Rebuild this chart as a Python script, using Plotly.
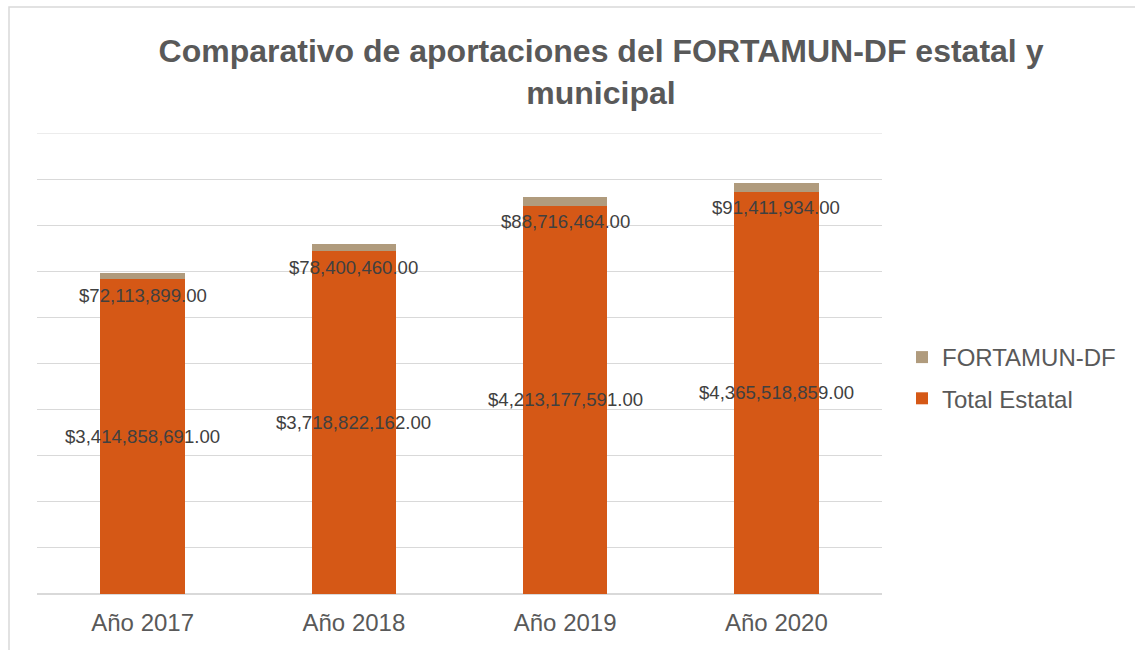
import plotly.graph_objects as go

years = ["Año 2017", "Año 2018", "Año 2019", "Año 2020"]
total_estatal = [3414858691.00, 3718822162.00, 4213177591.00, 4365518859.00]
fortamun_df = [72113899.00, 78400460.00, 88716464.00, 91411934.00]
y_max = 5e9
y_step = 5e8

# page body margin is removed by post_script, so figure coords = screen coords
W, H = 1135, 650
L, R, T = 37, 1135 - 882, 133
B = H - 594
pw, ph = W - L - R, H - T - B

ORANGE = "#D55816"
TAN = "#B09B7D"
TXT = "#595959"
LBL = "#404040"
GRID = "#D9D9D9"
FONT = "Liberation Sans, Arial, sans-serif"

fig = go.Figure()
fig.add_trace(go.Bar(name="Total Estatal", x=years, y=total_estatal,
                     marker=dict(color=ORANGE, line=dict(width=0)),
                     legendgroup="estatal", legendrank=2))
fig.add_trace(go.Bar(name="FORTAMUN-DF", x=years, y=fortamun_df,
                     marker=dict(color=TAN, line=dict(width=0)),
                     legendgroup="fortamun", legendrank=1))

def money(v):
    return "${:,.2f}".format(v)

anns = []
for x, te, fo in zip(years, total_estatal, fortamun_df):
    anns.append(dict(x=x, y=te / 2, text=money(te), showarrow=False,
                     font=dict(size=18.6, color=LBL, family=FONT),
                     xanchor="center", yanchor="middle"))
    anns.append(dict(x=x, y=te, text=money(fo), showarrow=False,
                     font=dict(size=18.6, color=LBL, family=FONT),
                     xanchor="center", yanchor="middle", yshift=-16))

def px_x(px):  # screen px -> paper
    return (px - L) / pw

def px_y(py):
    return (H - B - py) / ph

fig.update_layout(
    width=W, height=H,
    margin=dict(l=L, r=R, t=T, b=B),
    paper_bgcolor="white", plot_bgcolor="white",
    barmode="stack", bargap=0.6,
    font=dict(family=FONT, color=TXT),
    title=dict(text="<b>Comparativo de aportaciones del FORTAMUN-DF estatal y<br>municipal</b>",
               x=601 / W, xanchor="center", xref="container",
               y=1 - 62 / H, yanchor="top", yref="container",
               font=dict(size=32, color=TXT, family=FONT)),
    legend=dict(x=902 / W, xref="container", y=1 - 378 / H, yref="container",
                xanchor="left", yanchor="middle",
                traceorder="grouped", tracegroupgap=7,
                font=dict(size=24, color=TXT, family=FONT),
                bgcolor="rgba(0,0,0,0)"),
    annotations=anns,
    shapes=[dict(type="rect", xref="paper", yref="paper",
                 x0=px_x(9), x1=px_x(1400), y0=px_y(900), y1=px_y(7),
                 line=dict(color=GRID, width=1.5), fillcolor="rgba(0,0,0,0)",
                 layer="below"),
            dict(type="line", xref="paper", yref="y", x0=0, x1=1, y0=y_max, y1=y_max,
                 line=dict(color=GRID, width=1), layer="below")],
    showlegend=True,
)
fig.update_yaxes(range=[0, y_max], dtick=y_step, tick0=0, showticklabels=False,
                 showgrid=True, gridcolor=GRID, gridwidth=1,
                 zeroline=True, zerolinecolor=GRID, zerolinewidth=1.5,
                 showline=False, ticks="")
fig.update_xaxes(showgrid=False, showline=False, ticks="", ticklabelstandoff=12,
                 tickfont=dict(size=24, color=TXT, family=FONT))

fig.write_html("out.html", config={"displayModeBar": False},
               post_script="document.body.style.margin='0px';")
